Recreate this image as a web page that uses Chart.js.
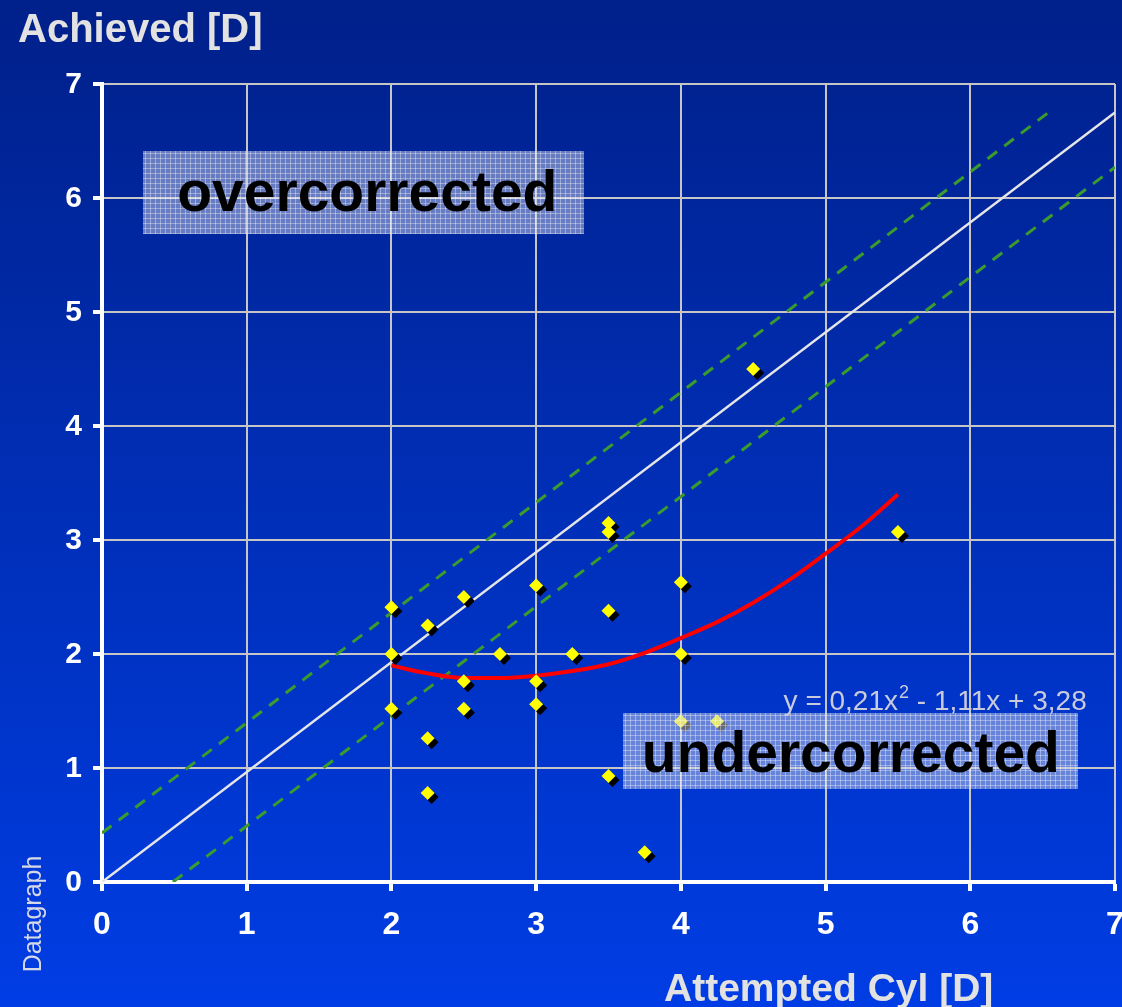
<!DOCTYPE html>
<html>
<head>
<meta charset="utf-8">
<title>Achieved vs Attempted Cyl</title>
<script src="https://cdn.jsdelivr.net/npm/chart.js@4.4.1/dist/chart.umd.min.js"></script>
<style>
  html, body { margin: 0; padding: 0; background: #0030c0; }
  #wrap { width: 1122px; height: 1007px; }
</style>
</head>
<body>
<div id="wrap"><canvas id="cylChart" width="1122" height="1007"></canvas></div>
<script>
// one entry per eye: attempted vs achieved cylinder (D)
const attemptedCyl = [2, 2, 2, 2.25, 2.25, 2.25, 2.5, 2.5, 2.5, 2.75, 3, 3, 3, 3.25, 3.5, 3.5, 3.5, 3.5, 3.75, 4, 4, 4, 4.25, 4.5, 5.5];
const achievedCyl = [2.41, 2.0, 1.52, 2.25, 1.26, 0.78, 2.5, 1.76, 1.52, 2.0, 2.6, 1.76, 1.56, 2.0, 3.15, 3.07, 2.38, 0.93, 0.26, 2.63, 2.0, 1.41, 1.41, 4.5, 3.07];

// polynomial trend, sampled along its path
const trendX = [2, 2.25, 2.5, 2.75, 3, 3.25, 3.5, 3.75, 4, 4.25, 4.5, 4.75, 5, 5.25, 5.5];
const trendY = [1.90, 1.83, 1.79, 1.79, 1.81, 1.85, 1.91, 2.01, 2.14, 2.28, 2.45, 2.65, 2.88, 3.12, 3.40];

// reference line and the +/- band around it
const idealX = [0, 7];
const idealY = [0, 6.75];
const upperX = [0, 6.55];
const upperY = [0.43, 6.76];
const lowerX = [0.49, 7];
const lowerY = [0, 6.27];

const axisTicks = [0, 1, 2, 3, 4, 5, 6, 7];

const FONT = '"Liberation Sans", Arial, Helvetica, sans-serif';

const pts = (xs, ys) => xs.map((x, i) => ({ x: x, y: ys[i] }));

// shaded label zones, placed in data units
const zones = [
    { text: 'overcorrected', x0: 0.28, x1: 3.33, y0: 6.41, y1: 5.68, tx: 0.52, ty: 5.89 },
    { text: 'undercorrected', x0: 3.60, x1: 6.745, y0: 1.485, y1: 0.82, tx: 3.73, ty: 0.965 }
];
const equationAt = { x: 4.71, y: 1.51 };

// gradient behind everything
const backdrop = {
    id: 'backdrop',
    beforeDraw(chart) {
        const { ctx, width, height } = chart;
        const g = ctx.createLinearGradient(0, 0, 0, height);
        g.addColorStop(0, '#00208a');
        g.addColorStop(1, '#003de4');
        ctx.save();
        ctx.fillStyle = g;
        ctx.fillRect(0, 0, width, height);
        ctx.restore();
    }
};

// hard black shadow under the diamonds
const dropShadow = {
    id: 'dropShadow',
    beforeDatasetDraw(chart, args) {
        if (args.index !== 0) return;
        const ctx = chart.ctx;
        ctx.save();
        ctx.shadowColor = '#000000';
        ctx.shadowOffsetX = 4;
        ctx.shadowOffsetY = 4;
        ctx.shadowBlur = 0;
    },
    afterDatasetDraw(chart, args) {
        if (args.index === 0) chart.ctx.restore();
    }
};

const zoneLabels = {
    id: 'zoneLabels',
    afterDatasetsDraw(chart) {
        const { ctx, scales: { x, y } } = chart;
        zones.forEach(z => {
            const l = Math.round(x.getPixelForValue(z.x0));
            const r = Math.round(x.getPixelForValue(z.x1));
            const t = Math.round(y.getPixelForValue(z.y0));
            const b = Math.round(y.getPixelForValue(z.y1));
            ctx.save();
            ctx.fillStyle = 'rgba(205, 210, 232, 0.5)';
            ctx.fillRect(l, t, r - l, b - t);
            // fine mesh
            ctx.strokeStyle = 'rgba(255, 255, 255, 0.35)';
            ctx.lineWidth = 1;
            ctx.beginPath();
            for (let px = l + 2.5; px < r; px += 5) { ctx.moveTo(px, t); ctx.lineTo(px, b); }
            for (let py = t + 2.5; py < b; py += 5) { ctx.moveTo(l, py); ctx.lineTo(r, py); }
            ctx.stroke();
            ctx.fillStyle = '#000000';
            ctx.font = 'bold 57px ' + FONT;
            ctx.textAlign = 'left';
            ctx.textBaseline = 'alphabetic';
            ctx.fillText(z.text, x.getPixelForValue(z.tx), y.getPixelForValue(z.ty));
            ctx.restore();
        });
    }
};

const axisText = {
    id: 'axisText',
    afterDraw(chart) {
        const { ctx, chartArea, scales: { x, y } } = chart;
        ctx.save();

        // tick labels
        ctx.fillStyle = '#ffffff';
        ctx.textAlign = 'center';
        ctx.textBaseline = 'middle';
        ctx.font = 'bold 32px ' + FONT;
        x.ticks.forEach(t => ctx.fillText(String(t.value), x.getPixelForValue(t.value), chartArea.bottom + 43));
        ctx.textAlign = 'right';
        ctx.font = 'bold 30px ' + FONT;
        y.ticks.forEach(t => ctx.fillText(String(t.value), chartArea.left - 20, y.getPixelForValue(t.value) + 1));

        // axis titles
        ctx.fillStyle = '#e2e2e2';
        ctx.textAlign = 'left';
        ctx.textBaseline = 'alphabetic';
        ctx.font = 'bold 40px ' + FONT;
        ctx.fillText('Achieved [D]', 18, 42);
        ctx.font = 'bold 39px ' + FONT;
        ctx.fillText('Attempted Cyl [D]', 664, 1001);

        // side credit
        ctx.save();
        ctx.translate(34, 914);
        ctx.rotate(-Math.PI / 2);
        ctx.fillStyle = '#d6d8e6';
        ctx.font = '25px ' + FONT;
        ctx.textAlign = 'center';
        ctx.textBaseline = 'middle';
        ctx.fillText('Datagraph', 0, 0);
        ctx.restore();

        // trend equation
        let ex = x.getPixelForValue(equationAt.x);
        const ey = y.getPixelForValue(equationAt.y);
        ctx.fillStyle = '#c9cbdc';
        ctx.font = '28px ' + FONT;
        const head = 'y = 0,21x';
        ctx.fillText(head, ex, ey);
        ex += ctx.measureText(head).width;
        ctx.font = '18px ' + FONT;
        ctx.fillText('2', ex + 1, ey - 12);
        ex += ctx.measureText('2').width + 1;
        ctx.font = '28px ' + FONT;
        ctx.fillText(' - 1,11x + 3,28', ex, ey);

        ctx.restore();
    }
};

const gridStyle = {
    color: '#c6c6c6',
    lineWidth: 2,
    tickColor: '#ffffff',
    tickWidth: 4,
    tickLength: 9
};
const borderStyle = { color: '#ffffff', width: 4 };
const setTicks = scale => { scale.ticks = axisTicks.map(v => ({ value: v })); };

new Chart(document.getElementById('cylChart'), {
    type: 'scatter',
    data: {
        datasets: [
            {
                label: 'Eyes',
                data: pts(attemptedCyl, achievedCyl),
                pointStyle: 'rectRot',
                pointRadius: 7,
                pointHoverRadius: 7,
                backgroundColor: '#ffff00',
                borderWidth: 0
            },
            {
                label: 'Trend',
                data: pts(trendX, trendY),
                showLine: true,
                borderColor: '#ff0000',
                borderWidth: 4,
                pointRadius: 0,
                cubicInterpolationMode: 'monotone'
            },
            {
                label: 'Ideal',
                data: pts(idealX, idealY),
                showLine: true,
                borderColor: '#e6e6e6',
                borderWidth: 2.5,
                pointRadius: 0
            },
            {
                label: 'Upper',
                data: pts(upperX, upperY),
                showLine: true,
                borderColor: '#3a9c2c',
                borderWidth: 3,
                borderDash: [12, 9],
                pointRadius: 0
            },
            {
                label: 'Lower',
                data: pts(lowerX, lowerY),
                showLine: true,
                borderColor: '#3a9c2c',
                borderWidth: 3,
                borderDash: [12, 9],
                pointRadius: 0
            }
        ]
    },
    options: {
        responsive: false,
        animation: false,
        devicePixelRatio: 1,
        layout: { padding: { left: 93, right: 3, top: 84, bottom: 116 } },
        plugins: {
            legend: { display: false },
            tooltip: { enabled: false }
        },
        scales: {
            x: {
                type: 'linear',
                min: 0,
                max: 7,
                afterBuildTicks: setTicks,
                ticks: { display: false },
                grid: gridStyle,
                border: borderStyle
            },
            y: {
                type: 'linear',
                min: 0,
                max: 7,
                afterBuildTicks: setTicks,
                ticks: { display: false },
                grid: gridStyle,
                border: borderStyle
            }
        }
    },
    plugins: [backdrop, dropShadow, zoneLabels, axisText]
});
</script>
</body>
</html>
